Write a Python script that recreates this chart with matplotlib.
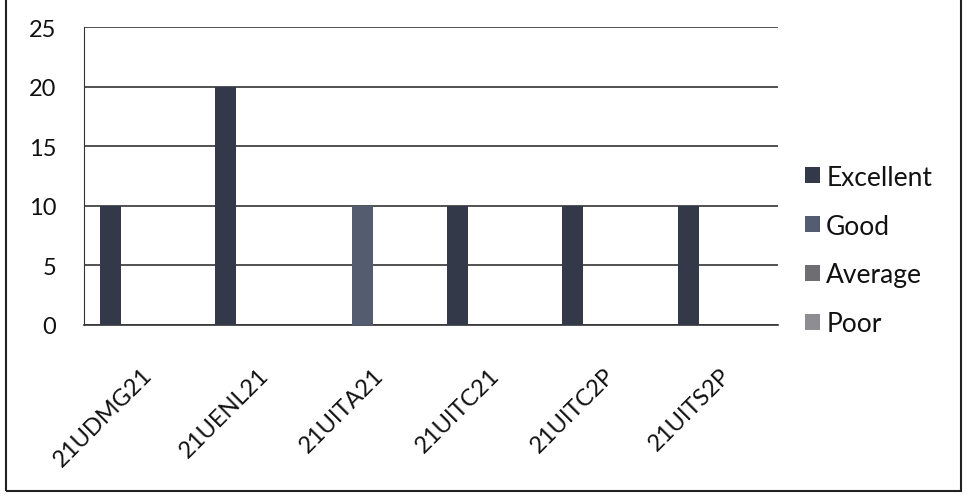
import numpy as np
import matplotlib.pyplot as plt
from matplotlib.patches import Rectangle

# Data
courses = ["21UDMG21", "21UENL21", "21UITA21", "21UITC21", "21UITC2P", "21UITS2P"]
excellent = [10, 20, 0, 10, 10, 10]
good = [0, 0, 10, 0, 0, 0]
average = [0, 0, 0, 0, 0, 0]
poor = [0, 0, 0, 0, 0, 0]

series = ["Excellent", "Good", "Average", "Poor"]
values = [excellent, good, average, poor]
colors = ["#34394a", "#545c72", "#6e6e72", "#8e8e92"]

plt.rcParams['font.family'] = ['Lato', 'DejaVu Sans']

fig = plt.figure(figsize=(9.69, 5.02), dpi=100)
ax = fig.add_axes([0.0867, 0.351, 0.716, 0.593])

x = np.arange(len(courses))
n = len(series)
w = 1 / (n + 1.5)
for i in range(n):
    ax.bar(x + (i - (n - 1) / 2) * w, values[i], w, color=colors[i],
           label=series[i], zorder=3)

ax.set_xlim(-0.5, len(courses) - 0.5)
ax.set_ylim(0, 25)
ax.set_yticks(range(0, 26, 5))
ax.yaxis.grid(True, color="#333333", lw=1.2, zorder=0)
ax.set_xticks(x, courses, rotation=45, ha="right", rotation_mode="anchor")
ax.tick_params(axis="x", length=0, pad=28, labelsize=17, labelcolor="#111111")
ax.tick_params(axis="y", length=0, pad=20, labelsize=17, labelcolor="#111111")
for s in ["top", "right"]:
    ax.spines[s].set_visible(False)
ax.spines["left"].set_color("#333333")
ax.spines["bottom"].set_color("#333333")
ax.spines["bottom"].set_linewidth(1.2)

leg = ax.legend(loc="center left", bbox_to_anchor=(1.005, 0.25), frameon=False,
                fontsize=19, handlelength=0.55, handleheight=0.55,
                handletextpad=0.25, labelspacing=0.9)
for t in leg.get_texts():
    t.set_color("#111111")

# outer chart border
fig.patches.append(Rectangle((0.006, 0.02), 0.986, 1.2, transform=fig.transFigure,
                             fill=False, edgecolor="#222222", lw=1.5))

fig.savefig("out.png", dpi=100)
